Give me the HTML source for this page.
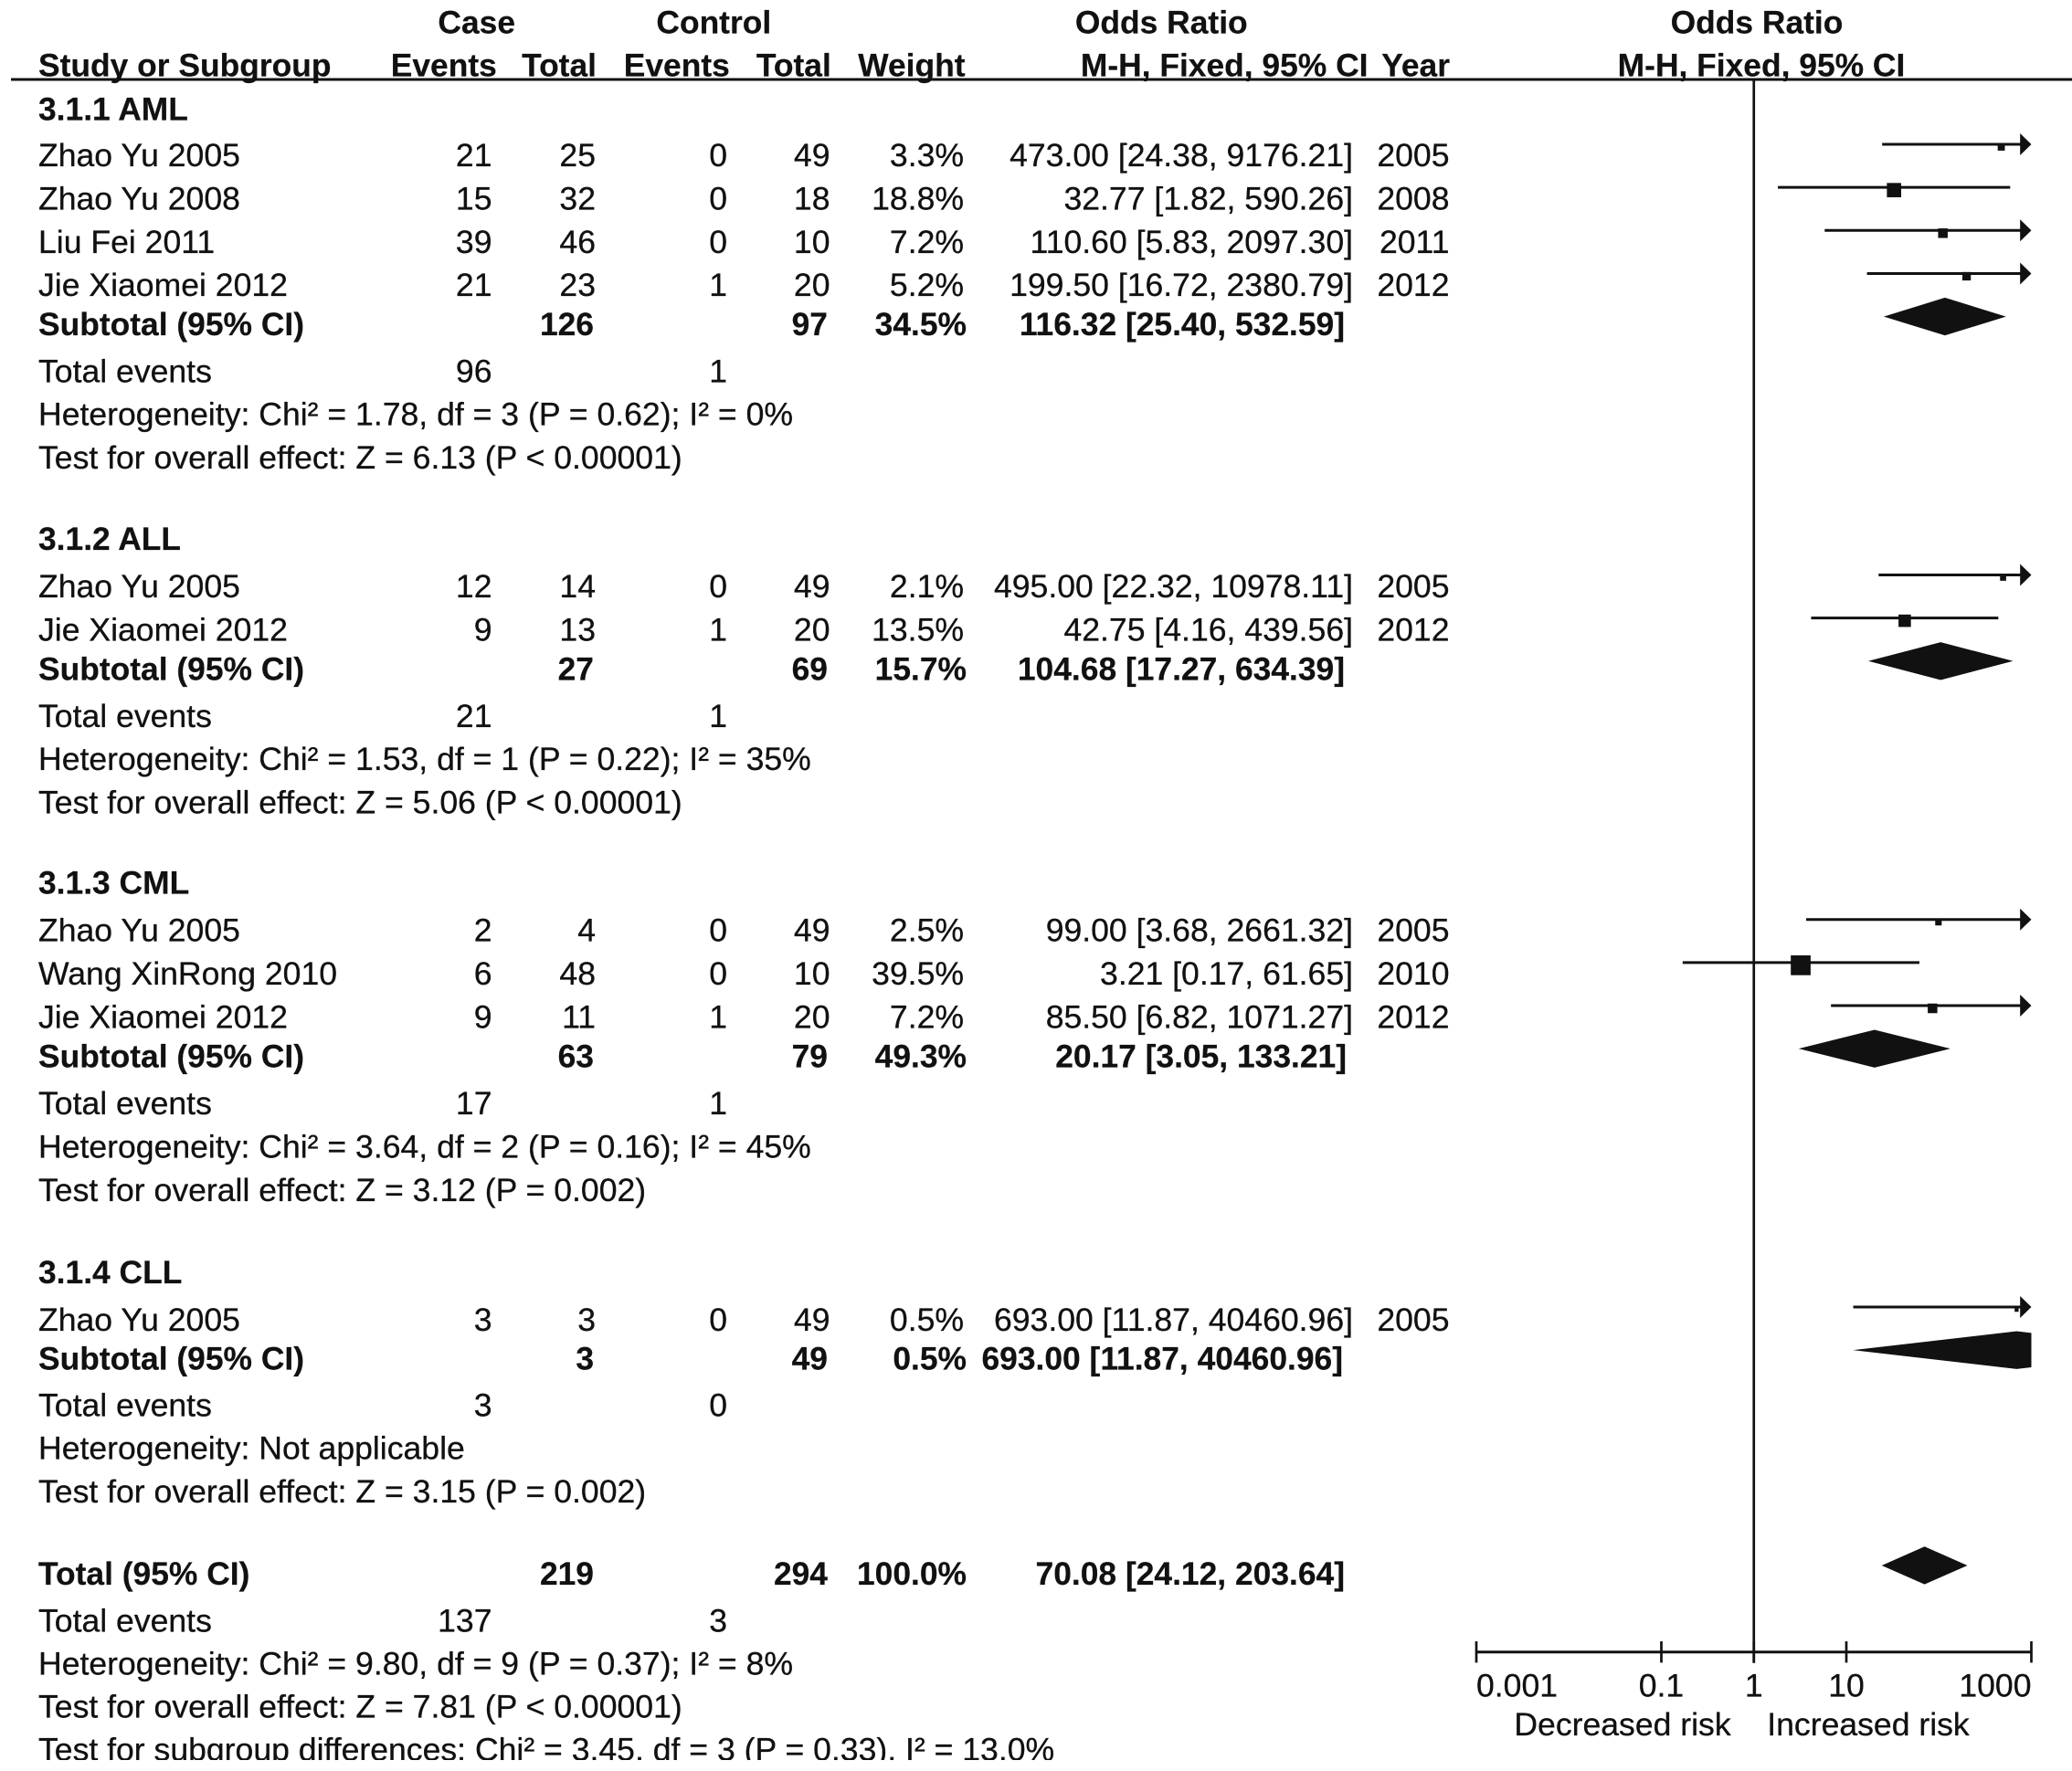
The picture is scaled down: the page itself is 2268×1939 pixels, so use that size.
<!DOCTYPE html>
<html lang="en">
<head>
<meta charset="utf-8">
<title>Forest plot</title>
<style>
html,body{margin:0;padding:0;background:#fff;width:2268px;height:1939px;overflow:hidden}
svg{display:block}
text{font-family:"Liberation Sans",Arial,sans-serif;font-size:35.6px;fill:#111;stroke:#111;stroke-width:.3px}
.r{text-anchor:end}.c{text-anchor:middle}.b{font-weight:bold;font-size:35.4px;stroke-width:.2px}
</style>
</head>
<body>
<svg id="plot" xmlns="http://www.w3.org/2000/svg" width="2268" height="1939" viewBox="0 0 2268 1939">
<rect x="0" y="0" width="2268" height="1939" fill="#fff"/>
<g>
<text class="c b" x="521.7" y="36.5">Case</text>
<text class="c b" x="781.3" y="36.5">Control</text>
<text class="c b" x="1271.3" y="36.5">Odds Ratio</text>
<text class="c b" x="1923" y="36.5">Odds Ratio</text>
<text class="b" x="42" y="83.5">Study or Subgroup</text>
<text class="r b" x="543.8" y="83.5">Events</text>
<text class="r b" x="653" y="83.5">Total</text>
<text class="r b" x="798.8" y="83.5">Events</text>
<text class="r b" x="909.8" y="83.5">Total</text>
<text class="r b" x="1056.5" y="83.5">Weight</text>
<text class="r b" x="1497.5" y="83.5">M-H, Fixed, 95% CI</text>
<text class="r b" x="1587" y="83.5">Year</text>
<text class="c b" x="1928" y="83.5">M-H, Fixed, 95% CI</text>
<rect x="12" y="85.5" width="2256" height="3" fill="#111"/>
</g>
<g>
<text class="b" x="42" y="131.5">3.1.1 AML</text>
<text x="42" y="182">Zhao Yu 2005</text><text class="r" x="538.5" y="182">21</text><text class="r" x="652" y="182">25</text><text class="r" x="796" y="182">0</text><text class="r" x="908.5" y="182">49</text><text class="r" x="1055" y="182">3.3%</text><text class="r" x="1481" y="182">473.00 [24.38, 9176.21]</text><text class="r" x="1586.5" y="182">2005</text>
<text x="42" y="229.5">Zhao Yu 2008</text><text class="r" x="538.5" y="229.5">15</text><text class="r" x="652" y="229.5">32</text><text class="r" x="796" y="229.5">0</text><text class="r" x="908.5" y="229.5">18</text><text class="r" x="1055" y="229.5">18.8%</text><text class="r" x="1481" y="229.5">32.77 [1.82, 590.26]</text><text class="r" x="1586.5" y="229.5">2008</text>
<text x="42" y="277">Liu Fei 2011</text><text class="r" x="538.5" y="277">39</text><text class="r" x="652" y="277">46</text><text class="r" x="796" y="277">0</text><text class="r" x="908.5" y="277">10</text><text class="r" x="1055" y="277">7.2%</text><text class="r" x="1481" y="277">110.60 [5.83, 2097.30]</text><text class="r" x="1586.5" y="277">2011</text>
<text x="42" y="324">Jie Xiaomei 2012</text><text class="r" x="538.5" y="324">21</text><text class="r" x="652" y="324">23</text><text class="r" x="796" y="324">1</text><text class="r" x="908.5" y="324">20</text><text class="r" x="1055" y="324">5.2%</text><text class="r" x="1481" y="324">199.50 [16.72, 2380.79]</text><text class="r" x="1586.5" y="324">2012</text>
<text class="b" x="42" y="367">Subtotal (95% CI)</text><text class="r b" x="650" y="367">126</text><text class="r b" x="906" y="367">97</text><text class="r b" x="1058" y="367">34.5%</text><text class="r b" x="1472" y="367">116.32 [25.40, 532.59]</text>
<text x="42" y="418.5">Total events</text><text class="r" x="538.5" y="418.5">96</text><text class="r" x="796" y="418.5">1</text>
<text x="42" y="465.5">Heterogeneity: Chi² = 1.78, df = 3 (P = 0.62); I² = 0%</text>
<text x="42" y="513">Test for overall effect: Z = 6.13 (P &lt; 0.00001)</text>
</g>
<g>
<text class="b" x="42" y="602">3.1.2 ALL</text>
<text x="42" y="654">Zhao Yu 2005</text><text class="r" x="538.5" y="654">12</text><text class="r" x="652" y="654">14</text><text class="r" x="796" y="654">0</text><text class="r" x="908.5" y="654">49</text><text class="r" x="1055" y="654">2.1%</text><text class="r" x="1481" y="654">495.00 [22.32, 10978.11]</text><text class="r" x="1586.5" y="654">2005</text>
<text x="42" y="701.5">Jie Xiaomei 2012</text><text class="r" x="538.5" y="701.5">9</text><text class="r" x="652" y="701.5">13</text><text class="r" x="796" y="701.5">1</text><text class="r" x="908.5" y="701.5">20</text><text class="r" x="1055" y="701.5">13.5%</text><text class="r" x="1481" y="701.5">42.75 [4.16, 439.56]</text><text class="r" x="1586.5" y="701.5">2012</text>
<text class="b" x="42" y="744.5">Subtotal (95% CI)</text><text class="r b" x="650" y="744.5">27</text><text class="r b" x="906" y="744.5">69</text><text class="r b" x="1058" y="744.5">15.7%</text><text class="r b" x="1472" y="744.5">104.68 [17.27, 634.39]</text>
<text x="42" y="796">Total events</text><text class="r" x="538.5" y="796">21</text><text class="r" x="796" y="796">1</text>
<text x="42" y="843">Heterogeneity: Chi² = 1.53, df = 1 (P = 0.22); I² = 35%</text>
<text x="42" y="890.5">Test for overall effect: Z = 5.06 (P &lt; 0.00001)</text>
</g>
<g>
<text class="b" x="42" y="978.5">3.1.3 CML</text>
<text x="42" y="1030.5">Zhao Yu 2005</text><text class="r" x="538.5" y="1030.5">2</text><text class="r" x="652" y="1030.5">4</text><text class="r" x="796" y="1030.5">0</text><text class="r" x="908.5" y="1030.5">49</text><text class="r" x="1055" y="1030.5">2.5%</text><text class="r" x="1481" y="1030.5">99.00 [3.68, 2661.32]</text><text class="r" x="1586.5" y="1030.5">2005</text>
<text x="42" y="1078">Wang XinRong 2010</text><text class="r" x="538.5" y="1078">6</text><text class="r" x="652" y="1078">48</text><text class="r" x="796" y="1078">0</text><text class="r" x="908.5" y="1078">10</text><text class="r" x="1055" y="1078">39.5%</text><text class="r" x="1481" y="1078">3.21 [0.17, 61.65]</text><text class="r" x="1586.5" y="1078">2010</text>
<text x="42" y="1125.5">Jie Xiaomei 2012</text><text class="r" x="538.5" y="1125.5">9</text><text class="r" x="652" y="1125.5">11</text><text class="r" x="796" y="1125.5">1</text><text class="r" x="908.5" y="1125.5">20</text><text class="r" x="1055" y="1125.5">7.2%</text><text class="r" x="1481" y="1125.5">85.50 [6.82, 1071.27]</text><text class="r" x="1586.5" y="1125.5">2012</text>
<text class="b" x="42" y="1168.5">Subtotal (95% CI)</text><text class="r b" x="650" y="1168.5">63</text><text class="r b" x="906" y="1168.5">79</text><text class="r b" x="1058" y="1168.5">49.3%</text><text class="r b" x="1474" y="1168.5">20.17 [3.05, 133.21]</text>
<text x="42" y="1220">Total events</text><text class="r" x="538.5" y="1220">17</text><text class="r" x="796" y="1220">1</text>
<text x="42" y="1267.5">Heterogeneity: Chi² = 3.64, df = 2 (P = 0.16); I² = 45%</text>
<text x="42" y="1315">Test for overall effect: Z = 3.12 (P = 0.002)</text>
</g>
<g>
<text class="b" x="42" y="1405">3.1.4 CLL</text>
<text x="42" y="1457">Zhao Yu 2005</text><text class="r" x="538.5" y="1457">3</text><text class="r" x="652" y="1457">3</text><text class="r" x="796" y="1457">0</text><text class="r" x="908.5" y="1457">49</text><text class="r" x="1055" y="1457">0.5%</text><text class="r" x="1481" y="1457">693.00 [11.87, 40460.96]</text><text class="r" x="1586.5" y="1457">2005</text>
<text class="b" x="42" y="1499.5">Subtotal (95% CI)</text><text class="r b" x="650" y="1499.5">3</text><text class="r b" x="906" y="1499.5">49</text><text class="r b" x="1058" y="1499.5">0.5%</text><text class="r b" x="1470" y="1499.5">693.00 [11.87, 40460.96]</text>
<text x="42" y="1550.5">Total events</text><text class="r" x="538.5" y="1550.5">3</text><text class="r" x="796" y="1550.5">0</text>
<text x="42" y="1597.5">Heterogeneity: Not applicable</text>
<text x="42" y="1645">Test for overall effect: Z = 3.15 (P = 0.002)</text>
</g>
<g>
<text class="b" x="42" y="1735">Total (95% CI)</text><text class="r b" x="650" y="1735">219</text><text class="r b" x="906" y="1735">294</text><text class="r b" x="1058" y="1735">100.0%</text><text class="r b" x="1472" y="1735">70.08 [24.12, 203.64]</text>
<text x="42" y="1786.5">Total events</text><text class="r" x="538.5" y="1786.5">137</text><text class="r" x="796" y="1786.5">3</text>
<text x="42" y="1833.5">Heterogeneity: Chi² = 9.80, df = 9 (P = 0.37); I² = 8%</text>
<text x="42" y="1880.7">Test for overall effect: Z = 7.81 (P &lt; 0.00001)</text>
<text x="42" y="1927.7">Test for subgroup differences: Chi² = 3.45, df = 3 (P = 0.33), I² = 13.0%</text>
<rect x="0" y="1927" width="2268" height="12" fill="#fff"/>
</g>
<g id="marks"></g>
<g id="axis"></g>
<text class="c" x="1776" y="1900">Decreased risk</text>
<text class="c" x="2045" y="1900">Increased risk</text>
</svg>
<script>
const studyRows = [0, 1, 2, 3, 10, 11, 18, 19, 20, 27];
const studyOdds = [473, 32.77, 110.6, 199.5, 495, 42.75, 99, 3.21, 85.5, 693];
const studyLower = [24.38, 1.82, 5.83, 16.72, 22.32, 4.16, 3.68, 0.17, 6.82, 11.87];
const studyUpper = [9176.21, 590.26, 2097.3, 2380.79, 10978.11, 439.56, 2661.32, 61.65, 1071.27, 40460.96];
const studyWeights = [3.3, 18.8, 7.2, 5.2, 2.1, 13.5, 2.5, 39.5, 7.2, 0.5];
const pooledRows = [4, 12, 21, 28, 33];
const pooledOdds = [116.32, 104.68, 20.17, 693, 70.08];
const pooledLower = [25.4, 17.27, 3.05, 11.87, 24.12];
const pooledUpper = [532.59, 634.39, 133.21, 40460.96, 203.64];
const axisTicks = [0.001, 0.1, 1, 10, 1000];
const axisTickLabels = ["0.001", "0.1", "1", "10", "1000"];

const NS = "http://www.w3.org/2000/svg";
const INK = "#111";
const xMin = 0.001, xMax = 1000, pxLeft = 1616, pxRight = 2223.5;
function xScale(v) {
  const t = (Math.log10(v) - Math.log10(xMin)) / (Math.log10(xMax) - Math.log10(xMin));
  return pxLeft + t * (pxRight - pxLeft);
}
function yScale(row) { return 158 + row * 47.15; }
function make(tag, parent, props) {
  const el = document.createElementNS(NS, tag);
  for (const k in props) el.setAttribute(k, props[k]);
  parent.appendChild(el);
  return el;
}
const marks = document.getElementById("marks");
const axis = document.getElementById("axis");

const refLine = make("line", axis, { x1: xScale(1), x2: xScale(1), y1: 87, y2: 1820.7, stroke: INK, "stroke-width": 2.7 });


const axisY = 1808.7;
const axisLine = make("line", axis, { x1: xScale(xMin), x2: xScale(xMax), y1: axisY, y2: axisY, stroke: INK, "stroke-width": 3 });


axisTicks.forEach(function (tick, i) {
  const mark = make("line", axis, { x1: xScale(tick), x2: xScale(tick), y1: axisY - 11.7, y2: axisY + 11.7, stroke: INK, "stroke-width": 2.7 });
  
  
  const anchor = i === 0 ? "start" : (i === axisTicks.length - 1 ? "end" : "middle");
  const label = make("text", axis, { x: xScale(tick), y: 1857.3, "text-anchor": anchor });
  label.textContent = axisTickLabels[i];
  
  
});

studyRows.forEach(function (row, i) {
  const y = yScale(row);
  const clipped = studyUpper[i] > xMax;
  const end = clipped ? xScale(xMax) - 10 : xScale(studyUpper[i]);
  const ci = make("line", marks, { x1: xScale(studyLower[i]), x2: end, y1: y, y2: y, stroke: INK, "stroke-width": 3 });
  
  
  const size = 2.2 + 3.1 * Math.sqrt(studyWeights[i]);
  const box = make("rect", marks, { x: xScale(studyOdds[i]) - size / 2, y: y + 3 - size / 2, width: size, height: size, fill: INK });
  
  
  if (clipped) {
    const tip = xScale(xMax);
    const head = make("polygon", marks, { points: (tip - 12.3) + "," + (y - 12) + " " + tip + "," + y + " " + (tip - 12.3) + "," + (y + 12), fill: INK });
    
    
  }
});

pooledRows.forEach(function (row, i) {
  const y = yScale(row);
  const h = 20.7;
  const lo = xScale(pooledLower[i]), mid = xScale(pooledOdds[i]), hi = xScale(pooledUpper[i]);
  let pts;
  if (hi > pxRight) {
    const e = h * (1 - (pxRight - mid) / (hi - mid));
    pts = [lo + "," + y, mid + "," + (y - h), pxRight + "," + (y - e), pxRight + "," + (y + e), mid + "," + (y + h)];
  } else {
    pts = [lo + "," + y, mid + "," + (y - h), hi + "," + y, mid + "," + (y + h)];
  }
  const d = make("polygon", marks, { points: pts.join(" "), fill: INK });
  
  
});
</script>
</body>
</html>
